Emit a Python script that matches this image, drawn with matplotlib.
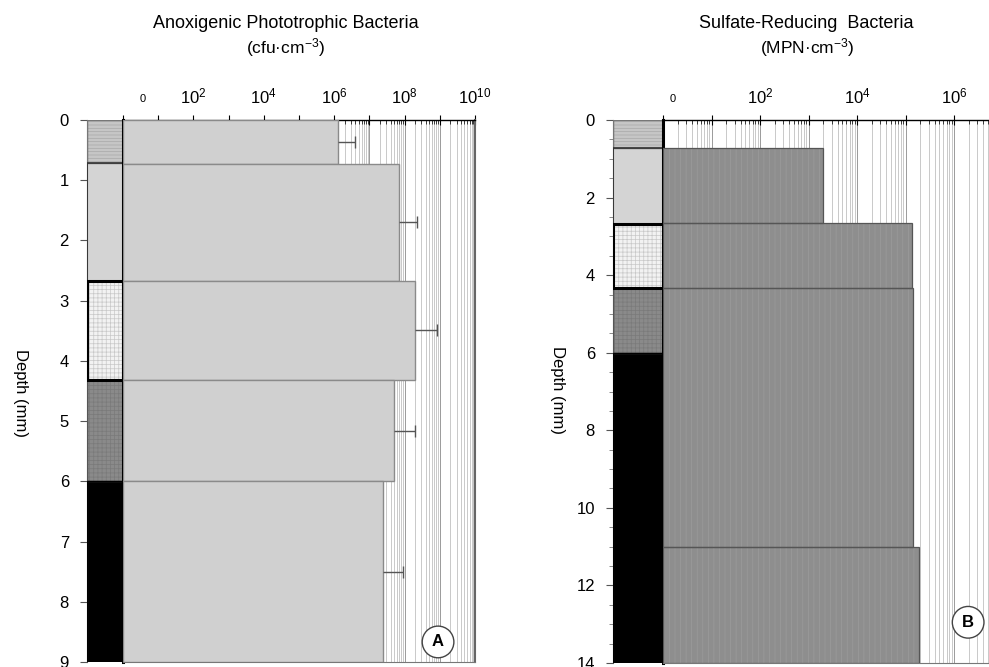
import numpy as np
import matplotlib
matplotlib.use("Agg")
from matplotlib import pyplot as plt
from matplotlib import ticker

plt.rcParams['font.family'] = ['Liberation Sans', 'DejaVu Sans']
plt.rcParams['mathtext.fontset'] = 'custom'
plt.rcParams['mathtext.rm'] = 'Liberation Sans'
plt.rcParams['mathtext.it'] = 'Liberation Sans'
plt.rcParams['mathtext.default'] = 'regular'
plt.rcParams['hatch.linewidth'] = 0.5

# lithology column (same for both cores), depth in mm
lith_top = [0.0, 0.72, 2.67, 4.32, 6.0]
lith_bottom_a = 9.0
lith_bottom_b = 14.0
lith_face = ['#c6c6c6', '#d4d4d4', '#f2f2f2', '#8a8a8a', '#000000']
lith_hatch = ['-----', '', '++++', '++++', '']
lith_hatchcol = ['#a8a8a8', '#d4d4d4', '#c8c8c8', '#7a7a7a', '#000000']
lith_edge = ['#777777', '#333333', '#000000', '#555555', '#000000']
lith_lw = [1.0, 1.2, 2.2, 1.0, 1.0]

# A: anoxygenic phototrophic bacteria (cfu/cm3)
a_top = [0.0, 0.73, 2.67, 4.32, 6.0]
a_bottom = [0.73, 2.67, 4.32, 6.0, 9.0]
a_count = [1.3e6, 7.1e7, 2.0e8, 5.1e7, 2.5e7]
a_err = [2.5e6, 1.5e8, 6.1e8, 1.5e8, 6.4e7]

# B: sulfate-reducing bacteria (MPN/cm3)
b_top = [0.0, 0.73, 2.66, 4.33, 11.0]
b_bottom = [0.73, 2.66, 4.33, 11.0, 14.0]
b_count = [0, 2.0e3, 1.35e5, 1.4e5, 1.9e5]

W, H = 989, 667
fig = plt.figure(figsize=(W / 100, H / 100), dpi=100)


def box(x0, x1, y0, y1):
    return [x0 / W, 1 - y1 / H, (x1 - x0) / W, (y1 - y0) / H]


def draw_lith(ax, bottom):
    bottoms = lith_top[1:] + [bottom]
    for i in range(len(lith_top)):
        h = bottoms[i] - lith_top[i]
        ax.barh(lith_top[i], 1, height=h, left=0, align='edge',
                color=lith_face[i], hatch=lith_hatch[i],
                edgecolor=lith_hatchcol[i], lw=0, zorder=2)
    order = [0, 1, 3, 4, 2]  # thick-bordered layer last
    for i in order:
        h = bottoms[i] - lith_top[i]
        ax.barh(lith_top[i], 1, height=h, left=0, align='edge', fill=False,
                edgecolor=lith_edge[i], lw=lith_lw[i], zorder=3)
    ax.set_xlim(0, 1)
    ax.set_ylim(bottom, 0)
    ax.set_xticks([])
    for s in ['top', 'right', 'bottom']:
        ax.spines[s].set_visible(False)
    ax.spines['left'].set_color('#555555')
    ax.tick_params(axis='y', direction='out', length=5, width=0.8,
                   color='#555555', labelsize=12, pad=8)


def log_axis(ax, xmax, ymax, zero_x):
    ax.set_xscale('log')
    ax.set_xlim(1, xmax)
    ax.set_ylim(ymax, 0)
    ax.set_yticks([])
    ax.xaxis.tick_top()
    ax.xaxis.set_major_locator(ticker.LogLocator(base=10, numticks=30))
    ax.xaxis.set_minor_locator(ticker.LogLocator(base=10, subs=np.arange(2, 10), numticks=30))
    ax.xaxis.set_minor_formatter(ticker.NullFormatter())

    def fmt(v, _):
        e = int(round(np.log10(v)))
        if e > 0 and e % 2 == 0:
            return r'$10^{%d}$' % e
        return ''
    ax.xaxis.set_major_formatter(ticker.FuncFormatter(fmt))
    ax.tick_params(axis='x', which='major', direction='inout', length=7,
                   width=0.8, labelsize=12, pad=6)
    ax.tick_params(axis='x', which='minor', direction='in', length=3, width=0.5)
    ax.grid(True, which='major', axis='x', color='#9a9a9a', lw=0.7)
    ax.grid(True, which='minor', axis='x', color='#b4b4b4', lw=0.5)
    ax.set_axisbelow(True)
    ax.spines['left'].set_linewidth(2.2)
    ax.spines['top'].set_linewidth(1.0)
    ax.spines['bottom'].set_color('#777777')
    ax.text(zero_x, 1.03, '0', transform=ax.transAxes,
            fontsize=8, ha='center', va='bottom')


# ---------- panel A ----------
axl = fig.add_axes(box(87, 123, 120, 662))
draw_lith(axl, lith_bottom_a)
axl.set_yticks(range(0, 10))
fig.text(20 / W, 1 - 393 / H, 'Depth (mm)', rotation=270, ha='center', va='center', fontsize=12)

ax = fig.add_axes(box(123, 475, 120, 662))
log_axis(ax, 1e10, 9, 0.057)
ax.spines['right'].set_color('#666666')
ax.spines['right'].set_linewidth(1.5)
a_h = np.array(a_bottom) - np.array(a_top)
a_c = np.array(a_count)
ax.barh(a_top, a_c - 1, height=a_h, left=1, align='edge', color='#d0d0d0',
        edgecolor='#8a8a8a', lw=1.0, zorder=3)
a_mid = np.array(a_top) + a_h / 2
ax.hlines(a_mid, a_c, a_c + np.array(a_err), color='#555555', lw=1, zorder=4)
ax.plot(a_c + np.array(a_err), a_mid, ls='none', marker='|', ms=9, mew=1,
        color='#555555', zorder=4)
ax.text(0.895, 0.037, 'A', transform=ax.transAxes, fontsize=12, fontweight='bold',
        ha='center', va='center', zorder=5,
        bbox=dict(boxstyle='circle,pad=0.5', fc='white', ec='#444444', lw=1))

fig.text(286 / W, 1 - 23 / H, 'Anoxigenic Phototrophic Bacteria', ha='center', va='center', fontsize=13)
fig.text(286 / W, 1 - 48 / H, '(cfu·cm$^{-3}$)', ha='center', va='center', fontsize=12.5)

# ---------- panel B ----------
bxl = fig.add_axes(box(613, 663, 120, 663))
draw_lith(bxl, lith_bottom_b)
bxl.set_yticks(range(0, 15, 2))
bxl.yaxis.set_minor_locator(ticker.MultipleLocator(0.5))
bxl.tick_params(axis='y', which='minor', direction='out', length=3, width=0.6, color='#777777')
fig.text(557 / W, 1 - 390 / H, 'Depth (mm)', rotation=270, ha='center', va='center', fontsize=12)

bx = fig.add_axes(box(663, 989, 120, 663))
log_axis(bx, 10 ** 6.72, 14, 0.03)
bx.spines['right'].set_visible(False)
b_h = np.array(b_bottom) - np.array(b_top)
b_w = np.maximum(np.array(b_count, dtype=float) - 1, 0)
bx.barh(b_top, b_w, height=b_h, left=1, align='edge', color='#8e8e8e',
        hatch='|||', edgecolor='#9c9c9c', lw=0, zorder=3)
keep = b_w > 0
bx.barh(np.array(b_top)[keep], b_w[keep], height=b_h[keep], left=1, align='edge',
        fill=False, edgecolor='#555555', lw=0.9, zorder=3)
bx.text(0.936, 0.075, 'B', transform=bx.transAxes, fontsize=12, fontweight='bold',
        ha='center', va='center', zorder=5,
        bbox=dict(boxstyle='circle,pad=0.5', fc='white', ec='#444444', lw=1))

fig.text(806 / W, 1 - 23 / H, 'Sulfate-Reducing  Bacteria', ha='center', va='center', fontsize=13)
fig.text(807 / W, 1 - 48 / H, '(MPN·cm$^{-3}$)', ha='center', va='center', fontsize=12.5)

fig.savefig('out.png', dpi=100)
